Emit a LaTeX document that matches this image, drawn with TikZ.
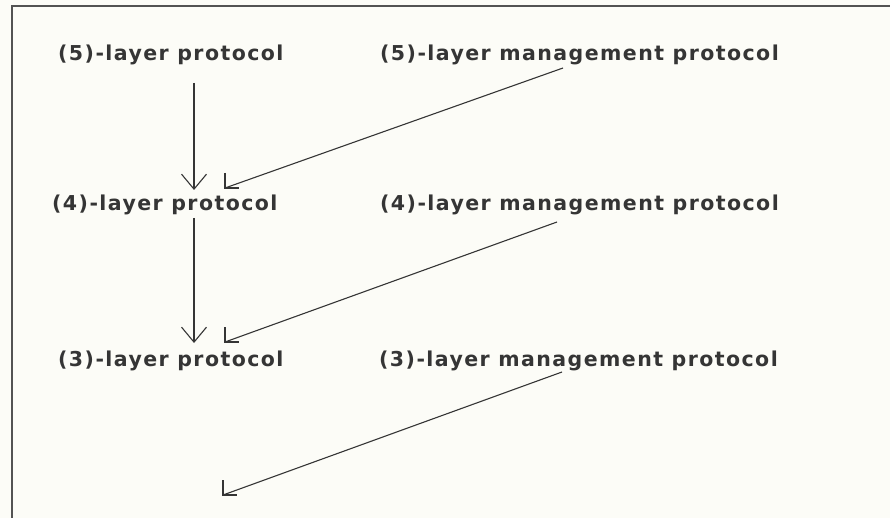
\documentclass[tikz,border=0pt]{standalone}
\usepackage{fontspec}
\newfontfamily\labelfont{DejaVu Sans}[LetterSpace=7]
\usetikzlibrary{arrows.meta}
\definecolor{paper}{HTML}{FCFCF7}
\definecolor{ink}{HTML}{353535}
\tikzset{
  label/.style={anchor=base west, inner sep=0pt, text=ink,
    font=\labelfont\bfseries\fontsize{20.5}{22}\selectfont},
  frameline/.style={draw=ink!85, line width=1.6pt},
  wire/.style={draw=ink, line width=1.1pt},
  downarrow/.style={wire, -{Straight Barb[length=15pt,width=25pt,line width=1.1pt]}},
}
\begin{document}
\begin{tikzpicture}[x=1pt, y=-1pt]
  \useasboundingbox (0,0) rectangle (890,518);
  \fill[paper] (0,0) rectangle (890,518);

  % open frame: left and top edges only
  \draw[frameline] (12,518) -- (12,6) -- (890,6);

  % protocol labels
  \node[label] (p5) at (58,61)  {(5)-layer protocol};
  \node[label] (p4) at (52,211) {(4)-layer protocol};
  \node[label] (p3) at (58,366) {(3)-layer protocol};
  \node[label] (m5) at (380,61)  {(5)-layer management protocol};
  \node[label] (m4) at (380,211) {(4)-layer management protocol};
  \node[label] (m3) at (379,366) {(3)-layer management protocol};

  % connector end points
  \coordinate (v5) at (194,83);   \coordinate (v5t) at (194,190);
  \coordinate (v4) at (194,218);  \coordinate (v4t) at (194,343);
  \coordinate (d5) at (563,68);   \coordinate (d5t) at (225,188);
  \coordinate (d4) at (557,222);  \coordinate (d4t) at (225,342);
  \coordinate (d3) at (562,372);  \coordinate (d3t) at (223,495);

  % layer-to-layer arrows
  \draw[downarrow] (v5) -- (v5t);
  \draw[downarrow] (v4) -- (v4t);

  % management arrows with L-shaped heads
  \foreach \s/\t in {d5/d5t, d4/d4t, d3/d3t} {
    \draw[wire] (\s) -- (\t);
    \draw[wire] (\t) ++(0,-15) -- (\t) -- ++(14,0);
  }
\end{tikzpicture}
\end{document}
